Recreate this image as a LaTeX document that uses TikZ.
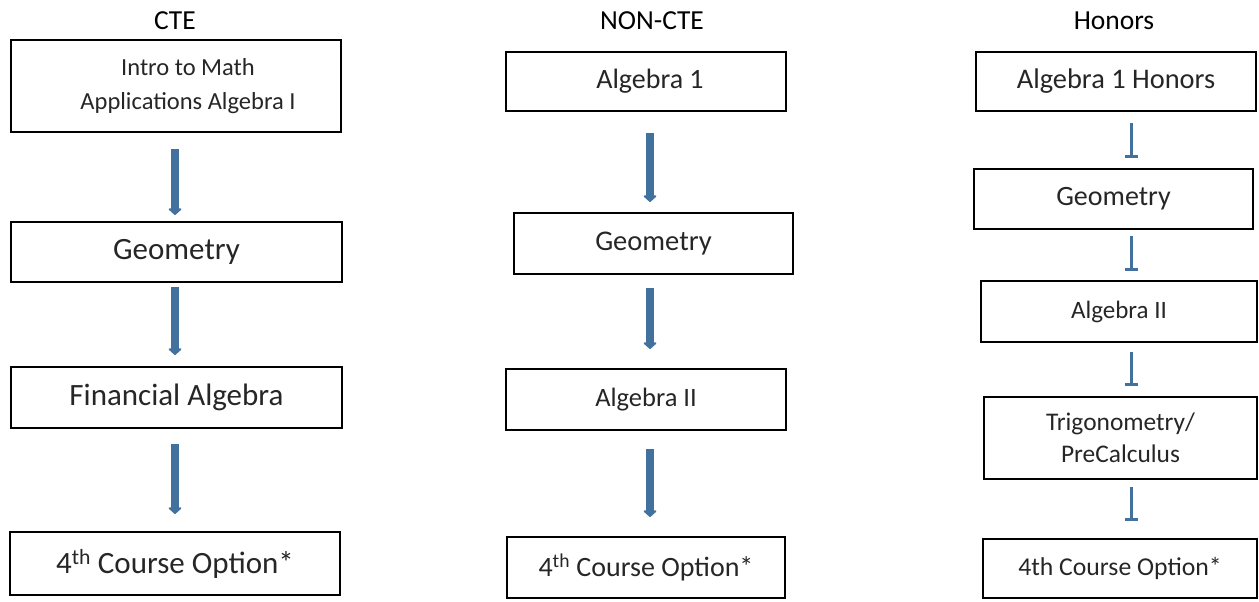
\documentclass[tikz,border=0pt]{standalone}
\usepackage{fontspec}
\setmainfont{Carlito}
\usetikzlibrary{arrows.meta}
\definecolor{arrowblue}{HTML}{41719C}
\definecolor{boxtext}{HTML}{262626}
\tikzset{
  box/.style={draw=black, line width=2pt, inner sep=0pt, align=center, text=boxtext},
  coltitle/.style={inner sep=0pt, text=black, font=\fontsize{27.5}{32}\selectfont},
  bigarr/.style={draw=arrowblue, line width=8.5pt, -{Triangle[width=15pt,length=7pt,round]}},
  thinarr/.style={draw=arrowblue, line width=3pt, -{Bar[width=13pt,line width=3pt]}}
}
\begin{document}
\begin{tikzpicture}[x=1pt,y=-1pt]
\useasboundingbox (0,0) rectangle (1259,602);
% titles
\node[coltitle] (tcte) at (175,21) {CTE};
\node[coltitle] (tnon) at (652,21) {NON-CTE};
\node[coltitle] (thon) at (1114,21) {Honors};
% CTE column
\node[box, minimum width=330, minimum height=92, font=\fontsize{24.5}{34}\selectfont] (cA) at (176,86) {\hspace*{24pt}Intro to Math\\\hspace*{24pt}Applications Algebra I};
\node[box, minimum width=331, minimum height=60, font=\fontsize{31}{37}\selectfont] (cG) at (176.5,252) {Geometry};
\node[box, minimum width=331, minimum height=61, font=\fontsize{31}{37}\selectfont] (cF) at (176.5,397.5) {Financial Algebra};
\node[box, minimum width=330, minimum height=63, font=\fontsize{31}{37}\selectfont] (cO) at (175,563.5) {4\textsuperscript{th} Course Option*};
\coordinate (cx) at (175,0);
\draw[bigarr, shorten <=16pt, shorten >=6pt] (cx |- cA.south) -- (cx |- cG.north);
\draw[bigarr, shorten <=4pt, shorten >=11pt] (cx |- cG.south) -- (cx |- cF.north);
\draw[bigarr, shorten <=15pt, shorten >=17pt] (cx |- cF.south) -- (cx |- cO.north);
% NON-CTE column
\node[box, minimum width=280, minimum height=59, font=\fontsize{28}{34}\selectfont] (nA) at (646,81.5) {\hspace*{8pt}Algebra 1};
\node[box, minimum width=279, minimum height=61, font=\fontsize{28.5}{34}\selectfont] (nG) at (653.5,243.5) {Geometry};
\node[box, minimum width=280, minimum height=61, font=\fontsize{26.5}{32}\selectfont] (nB) at (646,399.5) {Algebra II};
\node[box, minimum width=278, minimum height=61, font=\fontsize{28}{34}\selectfont] (nO) at (646,567.5) {4\textsuperscript{th} Course Option*};
\coordinate (nx) at (650,0);
\draw[bigarr, shorten <=21pt, shorten >=10pt] (nx |- nA.south) -- (nx |- nG.north);
\draw[bigarr, shorten <=13pt, shorten >=19pt] (nx |- nG.south) -- (nx |- nB.north);
\draw[bigarr, shorten <=18pt, shorten >=19pt] (nx |- nB.south) -- (nx |- nO.north);
% Honors column
\node[box, minimum width=280, minimum height=59, font=\fontsize{28.4}{34}\selectfont] (hA) at (1116,81.5) {Algebra 1 Honors};
\node[box, minimum width=279, minimum height=60, font=\fontsize{28}{34}\selectfont] (hG) at (1113.5,199) {Geometry};
\node[box, minimum width=276, minimum height=61, font=\fontsize{25}{30}\selectfont] (hB) at (1119,311.5) {Algebra II};
\node[box, minimum width=273, minimum height=82, font=\fontsize{25.4}{32}\selectfont] (hT) at (1120.5,438) {Trigonometry/\\PreCalculus};
\node[box, minimum width=274, minimum height=59, font=\fontsize{25.7}{31}\selectfont] (hO) at (1120,568.5) {4th Course Option*};
\coordinate (hx) at (1131,0);
\draw[thinarr, shorten <=11pt, shorten >=10pt] (hx |- hA.south) -- (hx |- hG.north);
\draw[thinarr, shorten <=6pt, shorten >=9pt] (hx |- hG.south) -- (hx |- hB.north);
\draw[thinarr, shorten <=9pt, shorten >=10pt] (hx |- hB.south) -- (hx |- hT.north);
\draw[thinarr, shorten <=7pt, shorten >=17pt] (hx |- hT.south) -- (hx |- hO.north);
\end{tikzpicture}
\end{document}
